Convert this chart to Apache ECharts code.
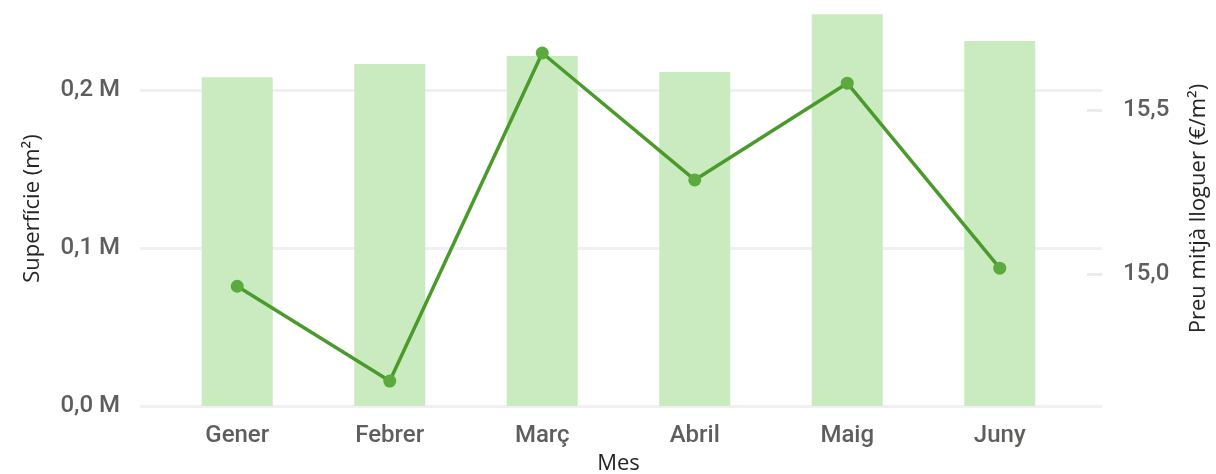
<!DOCTYPE html>
<html>
<head>
    <meta charset="utf-8" />
    <script src="https://cdn.jsdelivr.net/npm/echarts@6/dist/echarts.min.js"></script>
    <title></title>
    <style>
        html, body { margin: 0; padding: 0; background: #fff; }
    </style>
</head>
<body>
    <div id="main" style="width:1216px;height:474px;"></div>

    <script type="text/javascript">
        // dades
        var mesos = ['Gener', 'Febrer', 'Març', 'Abril', 'Maig', 'Juny'];
        var superficie = [208000, 216500, 221500, 211400, 248000, 231000];
        var preu = [14.963, 14.674, 15.674, 15.287, 15.582, 15.018];
        var ticksEsq = [0, 100000, 200000];
        var ticksDreta = [15.0, 15.5];

        var labelFont = 'Roboto';
        var titleFont = '"Open Sans"';

        function fmtM(v) {
            return (v / 1000000).toFixed(1).replace('.', ',') + ' M';
        }
        function fmtPreu(v) {
            return v.toFixed(1).replace('.', ',');
        }

        var myChart = echarts.init(document.getElementById('main'));

        myChart.setOption({
            animation: false,
            grid: [
                // grid ample, només per a les línies de fons
                { left: 140, right: 114, top: 11, bottom: 68, outerBoundsMode: 'none' },
                // grid de dades
                { left: 161, right: 140, top: 11, bottom: 68, outerBoundsMode: 'none' }
            ],
            xAxis: [
                { gridIndex: 0, type: 'value', min: 0, max: 1, show: false },
                {
                    gridIndex: 1,
                    type: 'category',
                    data: mesos,
                    axisLine: { show: false },
                    axisTick: { show: false },
                    axisLabel: {
                        color: '#605E5C',
                        fontFamily: labelFont,
                        fontWeight: 500,
                        fontSize: 24,
                        margin: 18
                    },
                    name: 'Mes',
                    nameLocation: 'middle',
                    nameGap: 46,
                    nameTextStyle: {
                        color: '#252423',
                        fontFamily: titleFont,
                        fontWeight: 500,
                        fontSize: 22
                    }
                }
            ],
            yAxis: [
                {
                    gridIndex: 0,
                    type: 'value',
                    position: 'left',
                    min: 0,
                    max: 250000,
                    axisLine: { show: false },
                    axisTick: { show: false, customValues: ticksEsq },
                    axisLabel: {
                        customValues: ticksEsq,
                        formatter: fmtM,
                        color: '#605E5C',
                        fontFamily: labelFont,
                        fontWeight: 500,
                        fontSize: 24,
                        margin: 20
                    },
                    splitLine: { show: true, lineStyle: { color: '#F0F0F0', width: 3 } },
                    name: 'Superfície (m²)',
                    nameLocation: 'middle',
                    nameRotate: 90,
                    nameGap: 96,
                    nameTextStyle: {
                        color: '#252423',
                        fontFamily: titleFont,
                        fontWeight: 500,
                        fontSize: 22
                    }
                },
                {
                    gridIndex: 1,
                    type: 'value',
                    min: 0,
                    max: 250000,
                    show: false
                },
                {
                    gridIndex: 1,
                    type: 'value',
                    position: 'right',
                    offset: 26,
                    min: 14.598,
                    max: 15.802,
                    axisLine: { show: false },
                    axisTick: {
                        show: true,
                        inside: true,
                        length: 15,
                        customValues: ticksDreta,
                        lineStyle: { color: '#EBEBEB', width: 3 }
                    },
                    axisLabel: {
                        customValues: ticksDreta,
                        formatter: fmtPreu,
                        color: '#605E5C',
                        fontFamily: labelFont,
                        fontWeight: 500,
                        fontSize: 24,
                        margin: 21
                    },
                    splitLine: { show: false },
                    name: 'Preu mitjà lloguer (€/m²)',
                    nameLocation: 'middle',
                    nameRotate: 90,
                    nameGap: 86,
                    nameTextStyle: {
                        color: '#252423',
                        fontFamily: titleFont,
                        fontWeight: 500,
                        fontSize: 22
                    }
                }
            ],
            series: [
                {
                    name: 'Superfície',
                    type: 'bar',
                    xAxisIndex: 1,
                    yAxisIndex: 1,
                    data: superficie,
                    barWidth: 71,
                    itemStyle: { color: '#CAEBC0' }
                },
                {
                    name: 'Preu',
                    type: 'line',
                    xAxisIndex: 1,
                    yAxisIndex: 2,
                    data: preu,
                    symbol: 'circle',
                    symbolSize: 13,
                    z: 5,
                    lineStyle: { color: '#4A9A2C', width: 3.5 },
                    itemStyle: { color: '#5AAA3D' }
                }
            ]
        });
    </script>
</body>
</html>
